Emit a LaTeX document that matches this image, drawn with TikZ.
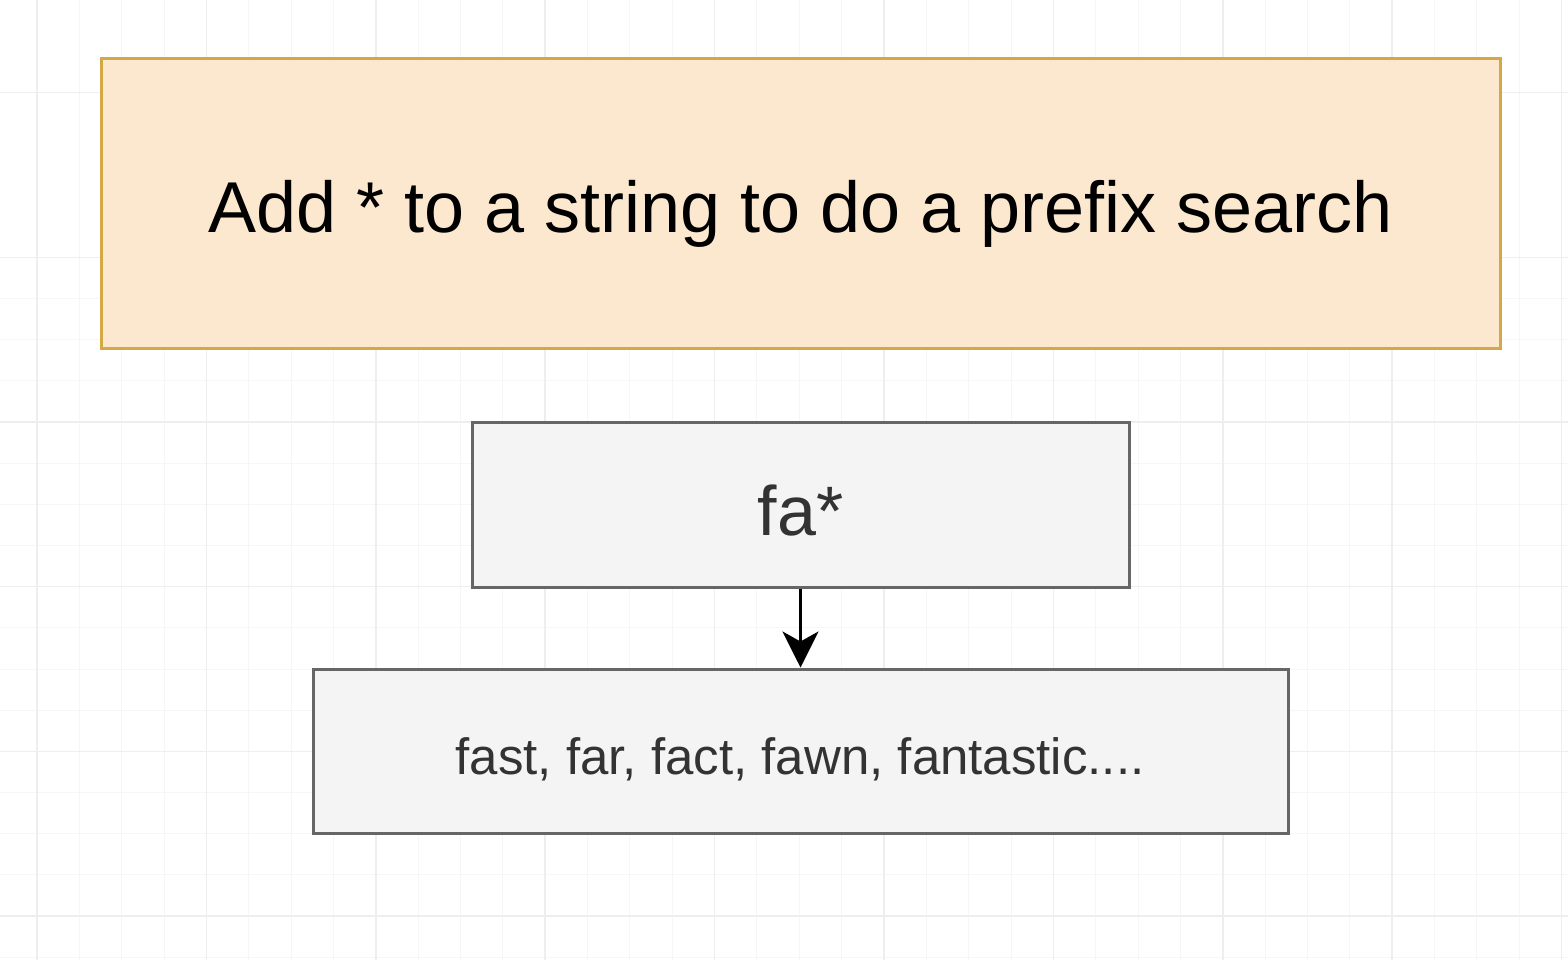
\documentclass[tikz,border=0pt]{standalone}
\usepackage{fontspec}
\setmainfont{Liberation Sans}
\usetikzlibrary{arrows.meta}
\definecolor{gridminor}{HTML}{F6F6F6}
\definecolor{gridmajor}{HTML}{EEEEEE}
\definecolor{orfill}{HTML}{FCE7CF}
\definecolor{orline}{HTML}{D4A846}
\definecolor{grfill}{HTML}{F4F4F4}
\definecolor{grline}{HTML}{666666}
\definecolor{txt}{HTML}{333333}
\tikzset{
  titlebox/.style={draw=orline, fill=orfill, line width=3pt},
  greybox/.style={draw=grline, fill=grfill, line width=3pt},
  arr/.style={-{Stealth[length=36pt,width=36pt,inset=10pt]}, line width=3pt, black},
}
\begin{document}
\begin{tikzpicture}[x=1pt,y=-1pt]
\useasboundingbox (0,0) rectangle (1568,960);
\fill[white] (0,0) rectangle (1568,960);
% minor grid
\foreach \i in {0,...,40} {
  \draw[gridminor, line width=1pt] ({37+42.35*\i},0) -- ({37+42.35*\i},960);
}
\foreach \j in {-3,...,24} {
  \draw[gridminor, line width=1pt] (0,{422+41.17*\j}) -- (1568,{422+41.17*\j});
}
% major grid
\foreach \i in {0,...,9} {
  \draw[gridmajor, line width=1.5pt] ({37+169.4*\i},0) -- ({37+169.4*\i},960);
}
\foreach \j in {-3,...,3} {
  \draw[gridmajor, line width=1.5pt] (0,{422+164.7*\j}) -- (1568,{422+164.7*\j});
}
\node[titlebox, minimum width=1399pt, minimum height=289pt, inner sep=0pt] (title) at (800.5,203.5) {};
\node[font=\fontsize{72}{80}\selectfont, text=black] (ttext) at (800.5,214) {Add * to a string to do a prefix search};
\node[greybox, minimum width=657pt, minimum height=165pt, inner sep=0pt] (query) at (800.5,504.5) {};
\node[font=\fontsize{70}{80}\selectfont, text=txt] (qtext) at (800.5,511) {fa*};
\node[greybox, minimum width=975pt, minimum height=164pt, inner sep=0pt] (result) at (800.5,751) {};
\node[font=\fontsize{51}{56}\selectfont, text=txt] (rtext) at (800,759) {fast, far, fact, fawn, fantastic....};
\draw[arr] (query.south) -- (result.north);
\end{tikzpicture}
\end{document}
